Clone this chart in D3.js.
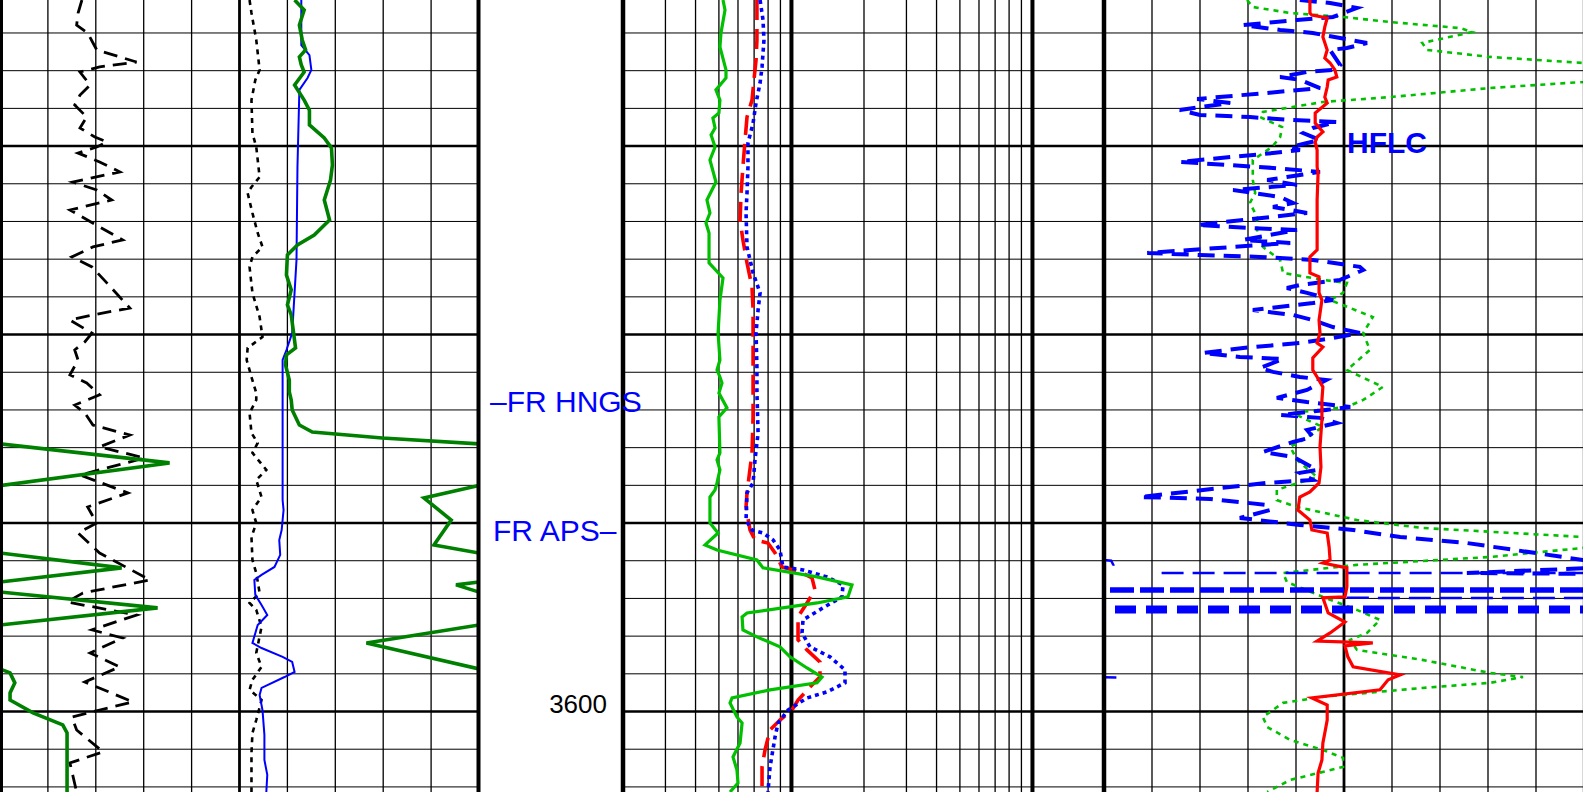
<!DOCTYPE html>
<html>
<head>
<meta charset="utf-8">
<script src="https://cdn.jsdelivr.net/npm/d3@7"></script>
<style>
  html, body { margin: 0; padding: 0; background: #fff; overflow: hidden; }
  svg { display: block; font-family: "Liberation Sans", Arial, sans-serif; }
</style>
</head>
<body>
<div id="chart"></div>
<script>
// depth window shown (m) and labels
var depthRange = [3562.25, 3604.27];
var depthLabels = [3600];

// track 1 (linear 0-100, GR wraps at 100)
var t1Green = [[3562.25,61.5],[3562.78,63.5],[3563.58,62.5],[3564.37,63.1],[3564.90,63.8],[3565.27,62.5],[3565.70,62.9],[3566.07,63.5],[3566.76,61.5],[3567.56,63.5],[3568.09,64.6],[3568.88,64.6],[3569.57,67.7],[3570.10,69.2],[3571.00,69.4],[3571.80,69.0],[3572.86,67.7],[3573.92,68.8],[3574.72,65.6],[3575.25,62.1],[3575.78,60.0],[3576.84,59.8],[3577.63,60.8],[3578.43,60.0],[3578.96,60.8],[3580.71,61.7],[3581.08,59.8],[3581.61,59.6],[3582.41,60.4],[3583.05,60.4],[3583.47,60.8],[3584.00,61.0],[3584.80,62.5],[3585.17,65.2],[3585.49,79.8],[3585.80,100],[3586.81,135.4],[3588.03,99.5],[3588.67,88.5],[3589.84,94.2],[3591.16,90.6],[3591.59,100],[3592.38,125.4],[3593.13,100],[3593.28,95.2],[3593.66,100],[3594.50,132.9],[3595.41,100],[3596.36,76.5],[3597.74,100],[3597.95,102.1],[3598.48,103.1],[3599.01,102.1],[3599.39,102.1],[3600.07,106.9],[3600.71,113.1],[3601.14,114.0],[3604.27,114.0]];
var t1Blue = [[3562.25,62.9],[3564.64,62.9],[3565.17,64.6],[3565.96,65.0],[3566.39,64.2],[3567.02,62.5],[3571.11,62.1],[3576.04,61.9],[3579.92,61.0],[3580.82,59.8],[3581.35,59.0],[3588.78,59.0],[3589.31,59.2],[3590.37,58.8],[3590.90,58.3],[3591.69,58.5],[3592.33,57.3],[3592.75,54.6],[3593.02,53.1],[3593.81,53.3],[3594.35,54.6],[3594.88,55.8],[3595.41,53.8],[3596.36,52.7],[3596.63,54.6],[3597.10,59.0],[3597.37,61.0],[3597.90,61.5],[3598.17,59.4],[3598.75,54.6],[3599.12,54.2],[3599.92,54.8],[3601.24,55.2],[3602.57,55.2],[3603.36,55.8],[3604.27,55.6]];
var t1Dotted = [[3562.25,52.1],[3562.94,52.5],[3564.37,53.5],[3565.96,54.2],[3566.49,53.3],[3567.56,52.5],[3569.31,52.7],[3570.05,53.5],[3571.64,54.2],[3572.17,52.5],[3572.49,51.7],[3573.55,52.7],[3574.61,53.8],[3575.35,54.8],[3575.88,52.7],[3576.41,52.1],[3577.79,52.7],[3579.07,54.2],[3580.13,54.8],[3580.71,51.7],[3581.35,51.5],[3582.25,52.5],[3583.10,53.5],[3583.47,53.5],[3584.16,52.1],[3585.22,52.5],[3585.75,53.8],[3586.28,52.7],[3587.18,55.6],[3587.71,53.5],[3588.62,54.6],[3589.31,52.7],[3590.00,53.5],[3590.74,52.5],[3591.96,52.7],[3592.65,53.5],[3593.71,54.2],[3594.24,52.1],[3594.61,53.5],[3595.51,54.6],[3596.89,53.5],[3597.63,54.6],[3598.32,52.7],[3598.85,52.1],[3599.39,54.6],[3600.45,53.5],[3601.14,52.7],[3602.20,52.5],[3604.27,52.5]];
var t1Dashed = [[3562.25,17.1],[3562.94,16.3],[3563.58,16.0],[3564.00,18.3],[3564.90,20.2],[3565.54,28.5],[3565.80,20.8],[3566.07,16.7],[3566.76,18.8],[3567.29,16.7],[3567.82,15.6],[3568.46,18.1],[3569.04,16.7],[3569.52,19.8],[3569.78,22.3],[3570.05,20.2],[3570.37,16.3],[3570.63,18.8],[3570.84,20.8],[3571.37,25.0],[3571.91,15.2],[3572.33,20.2],[3572.86,23.3],[3573.39,14.6],[3574.29,20.8],[3574.98,25.6],[3575.35,19.4],[3575.88,15.0],[3576.41,19.2],[3577.26,22.3],[3578.59,27.1],[3578.96,19.4],[3579.23,14.6],[3579.92,19.2],[3580.39,17.7],[3580.82,15.6],[3581.35,16.3],[3582.14,14.6],[3582.57,18.1],[3583.20,20.8],[3583.74,15.6],[3584.16,17.7],[3584.80,19.4],[3585.33,27.1],[3585.96,20.8],[3586.55,30.2],[3587.45,16.7],[3588.40,26.7],[3589.15,18.3],[3590.00,20.2],[3590.53,16.3],[3591.59,20.8],[3593.02,31.3],[3593.71,17.3],[3594.19,14.0],[3594.88,28.5],[3595.67,19.2],[3596.10,25.6],[3596.89,18.8],[3597.63,25.0],[3598.43,17.7],[3599.49,27.7],[3599.92,20.8],[3600.29,15.0],[3600.98,16.0],[3602.14,21.5],[3602.73,14.6],[3604.27,16.0]];

// track 2 (log 0.2-20)
var t2Green = [[3562.25,.520],[3562.78,.530],[3564.00,.510],[3564.74,.505],[3565.96,.535],[3566.39,.535],[3567.02,.486],[3567.56,.505],[3568.24,.500],[3568.51,.472],[3569.04,.482],[3569.41,.464],[3570.05,.482],[3570.74,.459],[3571.91,.486],[3572.86,.446],[3573.55,.459],[3574.08,.442],[3574.61,.455],[3576.20,.455],[3577.00,.520],[3578.17,.505],[3579.92,.496],[3581.35,.505],[3581.88,.491],[3582.25,.505],[3582.57,.515],[3583.10,.500],[3583.89,.540],[3584.37,.500],[3586.28,.505],[3586.65,.491],[3587.18,.505],[3587.87,.491],[3588.24,.482],[3588.62,.459],[3590.00,.459],[3590.53,.496],[3591.16,.438],[3591.43,.491],[3591.96,.719],[3592.38,.762],[3592.86,1.277],[3593.28,1.783],[3593.92,1.716],[3594.24,1.277],[3594.77,.654],[3594.98,.624],[3595.67,.629],[3596.04,.719],[3596.57,.896],[3597.10,.986],[3597.69,1.160],[3598.17,1.339],[3598.48,1.277],[3598.85,.815],[3599.28,.567],[3599.54,.556],[3600.29,.594],[3600.61,.624],[3601.67,.612],[3602.41,.572],[3603.10,.594],[3603.79,.600],[3604.27,.556]];
var t2Red = [[3562.25,.719],[3563.31,.719],[3564.37,.719],[3565.43,.713],[3566.49,.699],[3567.56,.686],[3568.46,.654],[3569.68,.642],[3571.11,.629],[3572.49,.618],[3573.92,.612],[3574.98,.629],[3576.20,.654],[3577.48,.686],[3578.70,.693],[3579.92,.693],[3581.72,.693],[3583.05,.693],[3584.37,.693],[3586.28,.686],[3588.40,.654],[3589.15,.648],[3590.37,.673],[3590.90,.706],[3591.06,.799],[3591.59,.855],[3592.33,.914],[3592.59,1.085],[3592.91,1.217],[3593.55,1.252],[3594.24,1.160],[3594.98,1.065],[3596.20,1.065],[3596.73,1.160],[3597.37,1.313],[3598.17,1.313],[3598.70,1.194],[3599.39,1.065],[3599.92,1.005],[3600.45,.896],[3600.98,.815],[3602.04,.777],[3602.94,.755],[3604.27,.755]];
var t2Blue = [[3562.25,.741],[3563.31,.762],[3564.37,.769],[3565.80,.755],[3566.65,.741],[3567.71,.713],[3568.78,.693],[3569.84,.660],[3571.11,.660],[3572.49,.654],[3573.55,.648],[3575.35,.654],[3576.73,.693],[3577.79,.741],[3578.70,.727],[3579.92,.713],[3581.72,.719],[3583.05,.719],[3585.22,.727],[3586.65,.706],[3587.87,.693],[3588.40,.654],[3589.84,.648],[3590.37,.686],[3590.53,.762],[3590.90,.839],[3591.43,.896],[3592.33,.922],[3592.49,1.117],[3592.86,1.404],[3593.28,1.636],[3593.92,1.621],[3594.50,1.352],[3595.14,1.117],[3595.83,1.106],[3596.57,1.194],[3597.10,1.445],[3597.79,1.668],[3598.48,1.668],[3598.96,1.404],[3599.28,1.160],[3599.92,.968],[3600.61,.880],[3601.35,.855],[3602.94,.815],[3604.27,.799]];

// track 3 (linear 0-100)
var t3Red = [[3562.25,42.9],[3562.94,42.9],[3563.05,43.3],[3563.20,46.5],[3563.68,46.0],[3564.21,45.6],[3564.90,46.5],[3565.33,46.0],[3565.59,47.1],[3565.96,48.1],[3566.33,48.5],[3566.49,46.7],[3566.87,46.5],[3567.40,46.0],[3567.71,46.5],[3568.24,44.0],[3568.78,44.0],[3569.25,45.6],[3569.52,44.4],[3569.78,44.0],[3570.21,44.4],[3571.11,44.4],[3571.43,44.6],[3572.86,44.4],[3574.61,44.4],[3575.51,44.4],[3575.88,42.9],[3576.73,42.9],[3576.94,44.8],[3577.79,44.8],[3578.17,45.4],[3579.23,44.8],[3579.92,45.0],[3580.45,44.4],[3580.66,45.6],[3581.24,43.5],[3581.88,43.5],[3582.25,44.4],[3582.78,45.6],[3583.47,45.4],[3584.53,45.4],[3585.96,45.0],[3587.02,45.2],[3587.87,44.8],[3588.35,42.9],[3588.62,40.8],[3589.31,40.4],[3589.84,42.9],[3590.37,43.3],[3590.53,46.5],[3591.27,46.9],[3591.96,47.1],[3592.12,45.6],[3592.38,50.6],[3593.39,50.6],[3593.92,50.2],[3593.97,45.6],[3594.77,46.7],[3595.25,50.2],[3595.83,47.1],[3596.26,44.4],[3596.36,56.0],[3596.52,50.2],[3597.10,50.8],[3597.63,51.9],[3598.06,61.7],[3598.32,59.2],[3598.85,57.5],[3599.28,43.3],[3599.65,46.5],[3600.45,46.5],[3601.14,46.0],[3601.67,45.6],[3602.57,45.4],[3603.26,44.6],[3604.27,44.4]];
var t3Green = [[3562.25,29.8],[3562.62,31.0],[3562.94,38.8],[3563.15,49.8],[3563.42,59.6],[3563.74,74.2],[3563.95,76.7],[3564.53,66.3],[3564.90,67.3],[3565.27,80.4],[3565.59,99.8],[3566.07,111.7],[3566.60,99.8],[3566.92,80.4],[3567.40,59.6],[3567.66,45.6],[3568.19,33.1],[3568.46,32.5],[3568.99,37.1],[3569.52,36.7],[3570.05,35.0],[3570.74,31.0],[3571.80,31.0],[3572.49,31.5],[3573.02,30.4],[3573.76,31.9],[3574.61,31.9],[3575.35,33.1],[3576.04,36.7],[3576.73,37.3],[3577.10,45.6],[3577.26,50.6],[3577.79,49.8],[3578.17,47.1],[3579.07,56.0],[3579.92,54.0],[3580.82,55.4],[3581.88,50.6],[3582.78,58.1],[3583.47,54.0],[3583.84,50.6],[3584.16,39.4],[3584.53,42.3],[3584.90,45.6],[3585.59,41.5],[3585.96,38.8],[3586.65,40.2],[3587.56,44.4],[3588.24,36.0],[3588.78,36.0],[3589.15,40.2],[3589.84,52.7],[3590.26,66.3],[3590.74,99.8],[3591.06,111.7],[3591.32,99.8],[3591.80,80.4],[3592.22,52.7],[3592.65,37.3],[3593.13,38.1],[3593.92,45.6],[3594.61,52.7],[3595.14,57.5],[3595.83,54.8],[3596.20,51.3],[3596.73,52.7],[3597.26,66.3],[3597.95,80.4],[3598.17,87.3],[3598.48,80.4],[3598.75,66.3],[3599.22,45.6],[3599.54,37.3],[3600.29,33.1],[3600.82,34.0],[3601.51,38.8],[3602.04,45.6],[3602.46,49.8],[3602.94,49.8],[3603.63,38.8],[3604.27,34.0]];
var hflc = [[3562.25,40.8],[3562.41,47.1],[3562.67,52.7],[3563.15,47.7],[3563.31,40.2],[3563.58,29.0],[3563.84,36.7],[3564.00,43.5],[3564.27,49.2],[3564.53,54.8],[3564.80,50.6],[3564.90,47.1],[3565.70,49.2],[3565.96,47.7],[3566.07,42.3],[3566.33,36.7],[3566.49,40.8],[3566.92,45.0],[3567.18,34.0],[3567.50,19.4],[3567.71,26.3],[3568.09,15.8],[3568.35,20.0],[3568.46,30.4],[3568.62,39.4],[3568.72,48.5],[3569.04,43.5],[3569.31,41.5],[3569.68,45.0],[3569.84,42.3],[3570.05,38.8],[3570.21,40.8],[3570.37,35.2],[3570.84,15.8],[3571.00,25.6],[3571.16,35.2],[3571.37,45.0],[3571.64,38.1],[3571.80,34.0],[3572.06,40.2],[3572.33,26.9],[3572.70,36.7],[3573.02,39.4],[3573.23,35.2],[3573.55,42.3],[3574.19,19.4],[3574.35,30.4],[3574.45,40.2],[3574.98,29.0],[3575.14,38.8],[3575.67,9.0],[3575.78,20.0],[3575.88,32.5],[3576.04,43.5],[3576.41,53.3],[3576.57,54.0],[3577.10,49.2],[3577.37,40.8],[3577.53,38.1],[3577.79,42.3],[3578.17,47.7],[3578.33,43.5],[3578.70,31.0],[3578.96,39.4],[3579.23,43.5],[3579.60,47.7],[3579.92,53.3],[3580.18,47.7],[3580.45,40.8],[3580.71,29.0],[3580.98,20.6],[3581.19,28.3],[3581.30,37.3],[3581.77,32.5],[3581.98,35.2],[3582.25,40.8],[3582.41,46.3],[3582.94,42.3],[3583.36,36.0],[3583.58,42.3],[3583.84,51.3],[3584.00,46.3],[3584.27,36.7],[3584.42,45.0],[3584.69,48.5],[3585.06,42.3],[3585.43,43.5],[3585.70,39.4],[3586.23,33.1],[3586.49,39.4],[3587.18,44.4],[3587.34,40.8],[3587.71,43.5],[3587.87,34.0],[3588.62,7.5],[3588.72,22.1],[3589.04,34.0],[3589.31,34.6],[3589.73,28.3],[3590.10,40.8],[3590.37,51.9],[3590.74,61.7],[3591.06,75.6],[3591.96,99.8],[3592.28,112],[3592.65,75.6],[3592.75,130]];
// off-scale excursions of the blue curves (null = break)
var hflcThin = [[3591.90,-2],[3592.00,1.5],[3592.20,1.9],[3592.40,-2],null,[3592.65,12],[3592.66,130],null,[3593.97,50.6],[3593.98,130],null,[3598.17,-2],[3598.19,2.7]];
var hflcBand = [[3593.55,-30],[3593.56,130]];
var hflcHeavy = [[3594.58,-30],[3594.59,130]];

var labels = [
  {text: "\u2013FR HNGS", x: 490, depth: 3584.10, size: 30, weight: "normal", color: "#0000ff", anchor: "start"},
  {text: "FR APS\u2013", x: 493, depth: 3590.95, size: 30, weight: "normal", color: "#0000ff", anchor: "start"},
  {text: "HFLC", x: 1347, depth: 3570.37, size: 30, weight: "bold", color: "#0000ff", anchor: "start"}
];

(function() {
    var width = 1583, height = 792;
    var svg = d3.select("#chart").append("svg")
        .attr("width", width)
        .attr("height", height);

    var y = d3.scaleLinear().domain(depthRange).range([0, height]);
    var x1 = d3.scaleLinear().domain([0, 100]).range([0, 479]);
    var x2 = d3.scaleLog().domain([0.2, 20]).range([623, 1105]);
    var x3 = d3.scaleLinear().domain([0, 100]).range([1104, 1584]);

    var tracks = [
        {id: "t1", x0: 0, x1: 479},
        {id: "t2", x0: 623, x1: 1104},
        {id: "t3", x0: 1104, x1: 1584}
    ];

    var defs = svg.append("defs");
    tracks.forEach(function(t) {
        defs.append("clipPath").attr("id", "clip-" + t.id)
            .append("rect").attr("x", t.x0).attr("y", 0)
            .attr("width", t.x1 - t.x0).attr("height", height);
    });

    // horizontal depth grid, every 2 m, heavy every 10 m
    var grid = svg.append("g");
    var depths = d3.range(3562, 3606, 2);
    tracks.forEach(function(t) {
        grid.selectAll(null).data(depths).enter().append("line")
            .attr("x1", t.x0).attr("x2", t.x1)
            .attr("y1", function(d) { return y(d); })
            .attr("y2", function(d) { return y(d); })
            .attr("stroke", "#000")
            .attr("stroke-width", function(d) { return d % 10 === 0 ? 2.6 : 1; });
    });

    // vertical grid
    var lin = d3.range(10, 100, 10);
    [[x1, lin], [x3, lin]].forEach(function(p) {
        grid.selectAll(null).data(p[1]).enter().append("line")
            .attr("x1", function(d) { return p[0](d); })
            .attr("x2", function(d) { return p[0](d); })
            .attr("y1", 0).attr("y2", height)
            .attr("stroke", "#000")
            .attr("stroke-width", function(d) { return d === 50 ? 2.8 : 1.3; });
    });
    var logTicks = [0.3,0.4,0.5,0.6,0.7,0.8,0.9,1,2,3,4,5,6,7,8,9,10];
    grid.selectAll(null).data(logTicks).enter().append("line")
        .attr("x1", function(d) { return x2(d); })
        .attr("x2", function(d) { return x2(d); })
        .attr("y1", 0).attr("y2", height)
        .attr("stroke", "#000")
        .attr("stroke-width", function(d) { return (d === 1 || d === 10) ? 4 : 1.3; });

    function curve(xs, clip, data, color, w, dash) {
        var line = d3.line()
            .defined(function(d) { return d !== null; })
            .x(function(d) { return xs(d[1]); })
            .y(function(d) { return y(d[0]); });
        svg.append("path")
            .datum(data)
            .attr("clip-path", "url(#clip-" + clip + ")")
            .attr("fill", "none")
            .attr("stroke", color)
            .attr("stroke-width", w)
            .attr("stroke-dasharray", dash || null)
            .attr("d", line);
    }

    // track 1
    curve(x1, "t1", t1Dotted, "#000", 2.6, "5,5");
    curve(x1, "t1", t1Dashed, "#000", 2.8, "14,8");
    curve(x1, "t1", t1Blue, "#0000ff", 2);
    curve(x1, "t1", t1Green, "#008000", 3.6);
    // backup (wrapped) trace of the gamma ray
    curve(x1, "t1", t1Green.map(function(d) { return [d[0], d[1] - 100]; }), "#008000", 3.6);

    // track 2
    curve(x2, "t2", t2Red, "#ff0000", 3.6, "20,9");
    curve(x2, "t2", t2Blue, "#0000ff", 3.6, "4,4");
    curve(x2, "t2", t2Green, "#00c000", 3.2);

    // track 3
    curve(x3, "t3", t3Green, "#00c000", 2.6, "5,5");
    curve(x3, "t3", hflc, "#0000ff", 4, "17,9");
    curve(x3, "t3", hflcThin, "#0000ff", 2.5, "22,9");
    curve(x3, "t3", hflcBand, "#0000ff", 5.5, "24,6");
    curve(x3, "t3", hflcHeavy, "#0000ff", 8, "21,10");
    curve(x3, "t3", t3Red, "#ff0000", 3.2);

    // track borders
    var borders = [[1, 4], [478.5, 4], [623, 4.5], [1104, 4.5], [1583.5, 1.3]];
    svg.selectAll(null).data(borders).enter().append("line")
        .attr("x1", function(d) { return d[0]; })
        .attr("x2", function(d) { return d[0]; })
        .attr("y1", 0).attr("y2", height)
        .attr("stroke", "#000")
        .attr("stroke-width", function(d) { return d[1]; });

    // depth labels
    svg.selectAll(null).data(depthLabels).enter().append("text")
        .attr("x", 607)
        .attr("y", function(d) { return y(d) + 1; })
        .attr("text-anchor", "end")
        .attr("font-size", 26)
        .attr("fill", "#000")
        .text(function(d) { return d; });

    svg.selectAll(null).data(labels).enter().append("text")
        .attr("x", function(d) { return d.x; })
        .attr("y", function(d) { return y(d.depth); })
        .attr("text-anchor", function(d) { return d.anchor; })
        .attr("font-size", function(d) { return d.size; })
        .attr("font-weight", function(d) { return d.weight; })
        .attr("fill", function(d) { return d.color; })
        .text(function(d) { return d.text; });
})();
</script>
</body>
</html>
